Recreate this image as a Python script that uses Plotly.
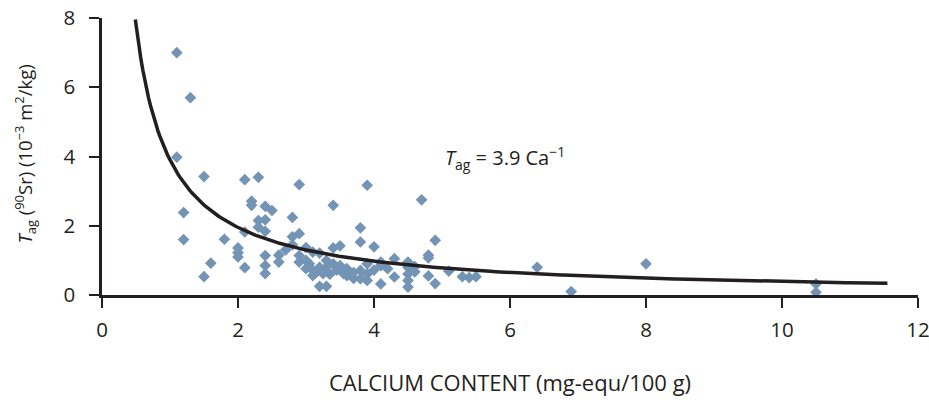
import numpy as np
import plotly.graph_objects as go

# Observed data: calcium content (mg-equ/100 g) vs T_ag(90Sr) (10^-3 m2/kg)
calcium = [1.1, 1.3, 1.1, 1.5, 2.1, 2.3, 2.9, 3.9, 3.4, 4.7,
           1.2, 2.2, 2.2, 2.4, 2.5, 2.3, 2.4, 2.3, 2.4, 2.1,
           2.8, 1.2, 1.8, 2.0, 2.0, 2.0, 1.6, 1.5, 2.1, 2.4,
           2.4, 2.4, 2.6, 2.6, 2.7, 2.8, 2.9, 2.8, 3.8, 3.8,
           4.0, 3.0, 2.9, 3.0, 3.1, 3.2, 3.4, 3.5, 3.0, 3.1,
           3.1, 3.2, 3.3, 3.3, 3.4, 3.5, 3.6, 3.7, 3.8, 3.8,
           3.9, 3.9, 3.9, 3.2, 3.3, 3.6, 4.1, 4.1, 4.2, 4.3,
           4.3, 4.5, 4.5, 4.5, 4.5, 4.5, 4.6, 4.6, 4.8, 4.8,
           4.8, 4.9, 4.9, 5.1, 5.3, 5.4, 5.5, 6.4, 6.9, 8.0,
           10.5, 10.5, 3.05, 3.15, 3.45, 3.55, 3.25, 4.1, 3.7, 4.0,
           2.9, 3.35]
t_ag = [7.0, 5.7, 3.98, 3.42, 3.33, 3.40, 3.19, 3.17, 2.59, 2.75,
        2.38, 2.71, 2.59, 2.56, 2.44, 2.15, 2.17, 1.96, 1.84, 1.82,
        2.24, 1.60, 1.61, 1.36, 1.22, 1.10, 0.92, 0.53, 0.79, 1.14,
        0.85, 0.62, 1.15, 0.95, 1.30, 1.68, 1.77, 1.45, 1.94, 1.53,
        1.39, 1.37, 1.14, 1.00, 1.24, 1.21, 1.36, 1.42, 0.76, 0.71,
        0.56, 0.80, 0.80, 1.00, 0.90, 0.85, 0.76, 0.48, 0.71, 0.47,
        0.90, 0.61, 0.42, 0.25, 0.25, 0.56, 0.85, 0.32, 0.76, 1.05,
        0.52, 0.95, 0.80, 0.61, 0.42, 0.23, 0.82, 0.67, 1.15, 1.07,
        0.55, 1.58, 0.33, 0.69, 0.53, 0.50, 0.53, 0.80, 0.10, 0.90,
        0.32, 0.08, 0.90, 0.65, 0.72, 0.62, 0.62, 0.95, 0.65, 0.72,
        0.95, 0.60]

# Fitted relation stated on the chart: T_ag = 3.9 Ca^-1
fit_coef = 3.9
fit_x_range = [0.49, 11.55]

x_ticks = [0, 2, 4, 6, 8, 10, 12]
y_ticks = [0, 2, 4, 6, 8]

fit_x = np.linspace(fit_x_range[0], fit_x_range[1], 400)
fit_y = fit_coef / fit_x

ink = "#231f20"
pt = "#7394b4"
font = "Open Sans"

fig = go.Figure()
fig.add_trace(go.Scatter(
    x=calcium, y=t_ag, mode="markers",
    marker=dict(symbol="diamond", size=9, color=pt, line=dict(width=0)),
    showlegend=False, hoverinfo="x+y"))
fig.add_trace(go.Scatter(
    x=fit_x, y=fit_y, mode="lines",
    line=dict(color=ink, width=3.5), showlegend=False, hoverinfo="skip"))

fig.add_annotation(
    x=5.02, y=3.97, xref="x", yref="y", xanchor="left", yanchor="middle",
    text="<i>T</i><sub>ag</sub> = 3.9 Ca<sup>−1</sup>", showarrow=False,
    font=dict(family=font, size=20, color=ink))

# y-axis title placed as a rotated annotation
fig.add_annotation(
    x=0, y=0.5, xref="paper", yref="paper", xanchor="center", yanchor="middle",
    xshift=-77, yshift=2, textangle=-90, showarrow=False,
    text="<i>T</i><sub>ag</sub> (<sup>90</sup>Sr) (10<sup>−3</sup> m<sup>2</sup>/kg)",
    font=dict(family=font, size=18.5, color=ink))

fig.update_layout(
    width=929, height=403,
    margin=dict(l=102, r=11, t=18, b=108),
    plot_bgcolor="white", paper_bgcolor="white",
    font=dict(family=font, size=20, color=ink),
    xaxis=dict(
        range=[0, 12], tickvals=x_ticks, showgrid=False, zeroline=False,
        showline=True, linecolor=ink, linewidth=2.5, automargin=False,
        ticks="outside", ticklen=10, tickwidth=2, tickcolor=ink,
        ticklabelstandoff=5, ticklabeloverflow="allow",
        tickfont=dict(family=font, size=20.5, color=ink),
        title=dict(text="CALCIUM CONTENT (mg-equ/100 g)", standoff=34,
                   font=dict(family=font, size=22, color=ink)),
    ),
    yaxis=dict(
        range=[0, 8], tickvals=y_ticks, showgrid=False, zeroline=False,
        showline=True, linecolor=ink, linewidth=2.5, automargin=False,
        ticks="outside", ticklen=10, tickwidth=2, tickcolor=ink,
        ticklabelstandoff=10, ticklabeloverflow="allow",
        tickfont=dict(family=font, size=20.5, color=ink),
    ),
)

fig.write_html(
    "out.html",
    config={"displayModeBar": False},
    post_script="document.body.style.margin='0';document.body.style.overflow='hidden';",
)
